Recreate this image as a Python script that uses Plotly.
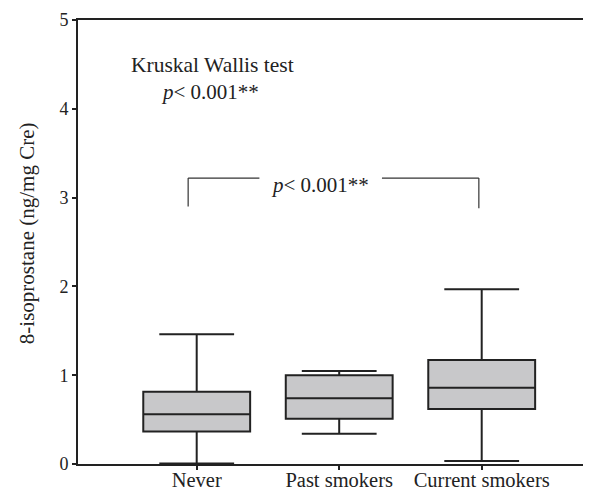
import plotly.graph_objects as go

categories = ["Never", "Past smokers", "Current smokers"]
lower_whisker = [0.005, 0.34, 0.035]
q1_vals = [0.365, 0.51, 0.62]
median_vals = [0.56, 0.74, 0.86]
q3_vals = [0.815, 1.0, 1.17]
upper_whisker = [1.46, 1.047, 1.967]
y_ticks = [0, 1, 2, 3, 4, 5]

FONT = "Liberation Serif, Times New Roman, serif"
LINE = "#222222"

positions = list(range(len(categories)))

fig = go.Figure()
fig.add_trace(go.Box(
    x=positions,
    q1=q1_vals, median=median_vals, q3=q3_vals,
    lowerfence=lower_whisker, upperfence=upper_whisker,
    width=0.75, whiskerwidth=0.7,
    fillcolor="#c8c8ca",
    line=dict(color=LINE, width=2),
    boxpoints=False,
    showlegend=False,
    hoverinfo="skip",
))

# Bracket between Never and Current smokers
bx0, bx1, by, bbot = -0.06, 1.98, 3.22, 2.9
gap0, gap1 = 0.44, 1.30
bracket_color = "#333333"
for (xa, ya, xb, yb) in [
    (bx0, bbot, bx0, by), (bx0, by, gap0, by),
    (gap1, by, bx1, by), (bx1, by, bx1, bbot - 0.02),
]:
    fig.add_shape(type="line", x0=xa, y0=ya, x1=xb, y1=yb, xref="x", yref="y",
                  line=dict(color=bracket_color, width=1.2))

fig.add_annotation(x=0.865, y=3.14, xref="x", yref="y", text="<i>p</i>< 0.001**",
                   showarrow=False, font=dict(family=FONT, size=21, color="#222"))
fig.add_annotation(x=-0.475, y=4.49, xref="x", yref="y", text="Kruskal Wallis test",
                   xanchor="left", showarrow=False, font=dict(family=FONT, size=21.5, color="#222"))
fig.add_annotation(x=-0.265, y=4.19, xref="x", yref="y", text="<i>p</i>< 0.001**",
                   xanchor="left", showarrow=False, font=dict(family=FONT, size=21, color="#222"))

# y axis title
fig.add_annotation(x=-0.0994, y=0.52, xref="paper", yref="paper",
                   xanchor="center", yanchor="middle",
                   text="8-isoprostane (ng/mg Cre)", textangle=-90, showarrow=False,
                   font=dict(family=FONT, size=21, color="#222"))

# page body has an 8px margin, so the figure is offset by 8px
fig.update_layout(
    width=583, height=484,
    margin=dict(l=70, r=0, t=12, b=28),
    plot_bgcolor="white", paper_bgcolor="white",
    font=dict(family=FONT, color="#222"),
    xaxis=dict(
        range=[-0.833, 2.767], tickmode="array", tickvals=positions, ticktext=categories,
        showline=True, linecolor=LINE, linewidth=2, mirror=True,
        ticks="outside", ticklen=4, tickwidth=2, tickcolor=LINE,
        showgrid=False, zeroline=False, tickfont=dict(family=FONT, size=20.5, color="#222"),
        ticklabelstandoff=-8,
        automargin=False,
    ),
    yaxis=dict(
        range=[0, 5], tickmode="array", tickvals=y_ticks,
        showline=True, linecolor=LINE, linewidth=2,
        ticks="outside", ticklen=4, tickwidth=2, tickcolor=LINE,
        showgrid=False, zeroline=False, tickfont=dict(family=FONT, size=18, color="#222"),
        automargin=False,
    ),
)

fig.write_html("out.html")
